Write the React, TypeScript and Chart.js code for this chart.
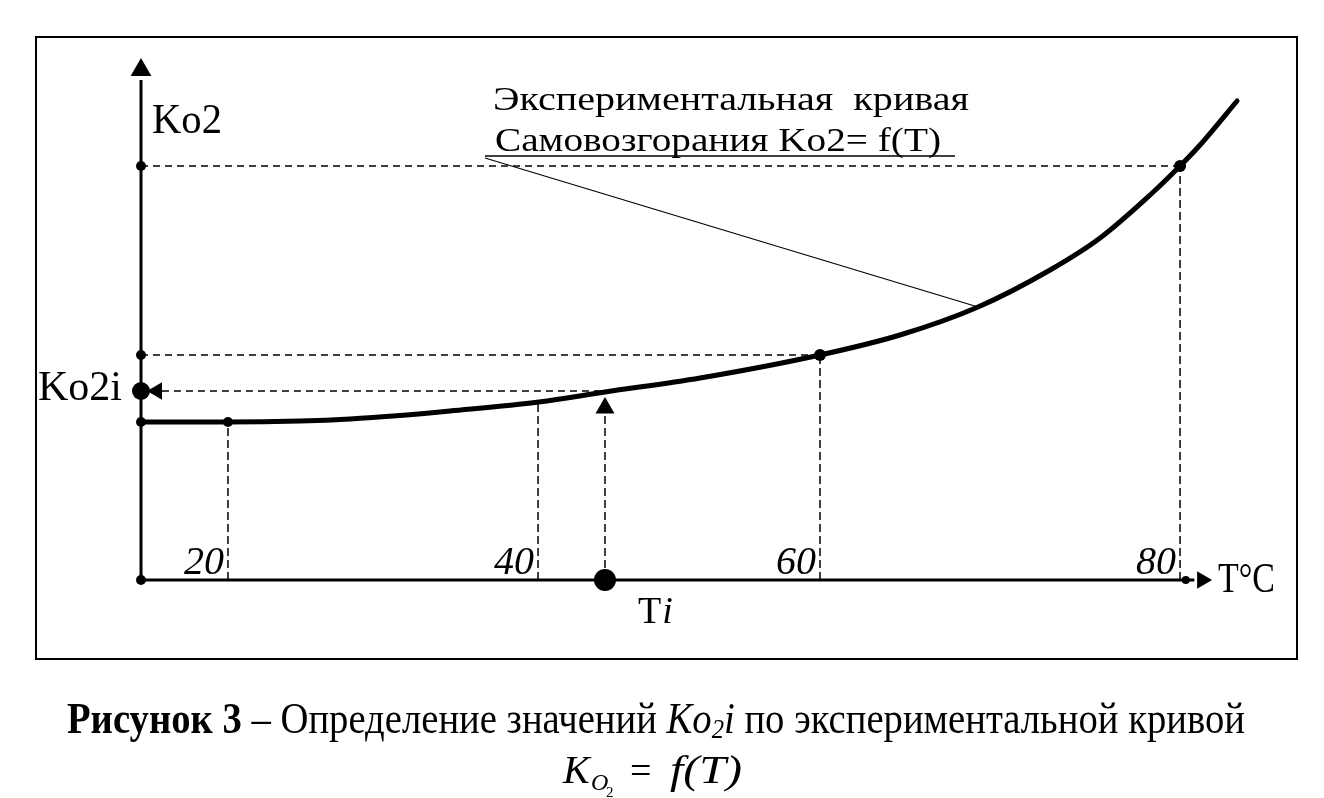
import React, { useEffect, useRef } from "react";
import { Chart, registerables } from "chart.js";

Chart.register(...registerables);

// ---------------- data ----------------
const T_ORIGIN = 14.52;
const T_MAX = 88;
const K_MAX = 5.5;

// experimental curve Ko2 = f(T)
const curveT = [14.52, 20, 24.54, 27.69, 30.84, 33.99, 39.6, 43.76, 49.75, 57.31, 62.35, 67.27, 71.81, 74.96, 78.11, 80.0, 81.26, 83.59];
const curveK = [1.58, 1.58, 1.59, 1.61, 1.645, 1.69, 1.78, 1.88, 2.02, 2.25, 2.45, 2.73, 3.1, 3.42, 3.85, 4.14, 4.35, 4.79];

// x tick labels
const tickLabels = ["20", "40", "60", "80"];
const tickT = [20, 39.54, 57.31, 80];

// vertical dashed guides
const vGuideT = [20, 39.54, 43.76, 57.31, 80];
const vGuideTopK = [1.58, 1.78, 1.67, 2.25, 4.14];

// horizontal dashed guides
const hGuideK = [4.14, 2.25, 1.89];
const hGuideFromT = [14.52, 14.52, 15.84];
const hGuideToT = [80, 57.31, 43.76];

// small marker dots
const markerT = [14.52, 14.52, 14.52, 20, 57.31, 80, 14.52, 80.36];
const markerK = [4.14, 2.25, 1.58, 1.58, 2.25, 4.14, 0, 0];

// Ti / Ko2i
const Ti = 43.76;
const Ko2i = 1.89;

// leader line from the annotation to the curve
const leaderT = [36.2, 67.27];
const leaderK = [4.22, 2.73];

// axis ends and arrow heads
const axisEndT = 80.9;
const axisEndK = 5.0;
const arrowT = [15.53, 43.76, 81.39, 14.52];
const arrowK = [1.89, 1.72, 0, 5.1];

// ---------------- drawing ----------------
const SERIF = "'Liberation Serif', 'DejaVu Serif', serif";

function fitText(ctx: CanvasRenderingContext2D, text: string, x: number, y: number, font: string, width?: number, align: "left" | "right" = "left") {
  ctx.save();
  ctx.font = font;
  ctx.textBaseline = "alphabetic";
  ctx.textAlign = "left";
  const w = ctx.measureText(text).width;
  const s = width ? width / w : 1;
  const left = align === "right" ? x - w * s : x;
  ctx.translate(left, y);
  ctx.scale(s, 1);
  ctx.fillText(text, 0, 0);
  ctx.restore();
}

type Seg = { text: string; font: string; dy: number };

function drawSegments(ctx: CanvasRenderingContext2D, segs: Seg[], x: number, y: number, width: number) {
  ctx.save();
  ctx.textBaseline = "alphabetic";
  ctx.textAlign = "left";
  let total = 0;
  const ws = segs.map((s) => {
    ctx.font = s.font;
    const w = ctx.measureText(s.text).width;
    total += w;
    return w;
  });
  const sc = width / total;
  ctx.translate(x, y);
  ctx.scale(sc, 1);
  let cx = 0;
  segs.forEach((s, i) => {
    ctx.font = s.font;
    ctx.fillText(s.text, cx, s.dy);
    cx += ws[i];
  });
  ctx.restore();
}

const textPlugin = {
  id: "schemeText",
  afterDraw(chart: any) {
    const ctx: CanvasRenderingContext2D = chart.ctx;
    const xs = chart.scales.x;
    const ys = chart.scales.y;
    const ox = xs.getPixelForValue(T_ORIGIN);
    const oy = ys.getPixelForValue(0);
    ctx.save();
    ctx.fillStyle = "#000";
    ctx.strokeStyle = "#000";

    // frame
    ctx.lineWidth = 2;
    ctx.strokeRect(36, 37, 1261, 622);

    // axis titles
    fitText(ctx, "Ko2", ox + 11, 133, `42px ${SERIF}`, 70);
    fitText(ctx, "T°C", 1218, 592, `42px ${SERIF}`, 57);
    fitText(ctx, "Ko2i", 38, 400, `42px ${SERIF}`, 84);

    // x tick labels
    tickLabels.forEach((lab, i) => {
      const px = xs.getPixelForValue(tickT[i]);
      fitText(ctx, lab, px - 4, oy - 6, `italic 40px ${SERIF}`, undefined, "right");
    });

    // Ti label
    const tix = xs.getPixelForValue(Ti);
    ctx.font = `38px ${SERIF}`;
    const tw = ctx.measureText("T").width;
    fitText(ctx, "T", tix + 33, 623, `38px ${SERIF}`);
    fitText(ctx, "i", tix + 33 + tw + 1, 623, `italic 38px ${SERIF}`);

    // annotation
    fitText(ctx, "Экспериментальная  кривая", 493, 110, `34px ${SERIF}`, 476);
    fitText(ctx, "Самовозгорания Ko2= f(T)", 495, 151, `34px ${SERIF}`, 446);
    ctx.lineWidth = 1.5;
    ctx.beginPath();
    ctx.moveTo(485, 156);
    ctx.lineTo(955, 156);
    ctx.stroke();

    // caption line 1
    drawSegments(
      ctx,
      [
        { text: "Рисунок 3", font: `bold 44px ${SERIF}`, dy: 0 },
        { text: " – Определение значений ", font: `44px ${SERIF}`, dy: 0 },
        { text: "Ko", font: `italic 44px ${SERIF}`, dy: 0 },
        { text: "2", font: `italic 28px ${SERIF}`, dy: 5 },
        { text: "i", font: `italic 44px ${SERIF}`, dy: 0 },
        { text: " по экспериментальной кривой", font: `44px ${SERIF}`, dy: 0 },
      ],
      67,
      733,
      1178
    );

    // caption line 2: K_{O_2} = f(T)
    fitText(ctx, "K", 563, 783, `italic 40px ${SERIF}`);
    fitText(ctx, "O", 591, 790, `italic 24px ${SERIF}`);
    fitText(ctx, "2", 606, 797, `15px ${SERIF}`);
    fitText(ctx, "=", 630, 783, `38px ${SERIF}`);
    fitText(ctx, "f(T)", 670, 783, `italic 40px ${SERIF}`, 72);

    ctx.restore();
  },
};

export default function App() {
  const ref = useRef<HTMLCanvasElement>(null);

  useEffect(() => {
    const canvas = ref.current;
    if (!canvas) return;
    const black = "#000";
    const pts = (xs: number[], ys: number[]) => xs.map((x, i) => ({ x, y: ys[i] }));
    const seg = (x1: number, y1: number, x2: number, y2: number) => [
      { x: x1, y: y1 },
      { x: x2, y: y2 },
    ];
    const datasets: any[] = [];

    hGuideK.forEach((k, i) =>
      datasets.push({
        data: seg(hGuideFromT[i], k, hGuideToT[i], k),
        showLine: true,
        borderColor: black,
        borderWidth: 1.5,
        borderDash: [7, 5],
        pointRadius: 0,
        clip: false,
        order: 6,
      })
    );
    vGuideT.forEach((t, i) =>
      datasets.push({
        data: seg(t, 0, t, vGuideTopK[i]),
        showLine: true,
        borderColor: black,
        borderWidth: 1.5,
        borderDash: [8, 4],
        pointRadius: 0,
        clip: false,
        order: 6,
      })
    );
    datasets.push({
      data: pts(leaderT, leaderK),
      showLine: true,
      borderColor: black,
      borderWidth: 1.2,
      pointRadius: 0,
      clip: false,
      order: 5,
    });
    datasets.push({
      data: seg(T_ORIGIN, 0, axisEndT, 0),
      showLine: true,
      borderColor: black,
      borderWidth: 3,
      pointRadius: 0,
      clip: false,
      order: 4,
    });
    datasets.push({
      data: seg(T_ORIGIN, 0, T_ORIGIN, axisEndK),
      showLine: true,
      borderColor: black,
      borderWidth: 3,
      pointRadius: 0,
      clip: false,
      order: 4,
    });
    datasets.push({
      data: pts(curveT, curveK),
      showLine: true,
      borderColor: black,
      borderWidth: 5,
      borderCapStyle: "round",
      cubicInterpolationMode: "monotone",
      pointRadius: 0,
      clip: false,
      order: 3,
    });
    datasets.push({
      data: pts(markerT, markerK),
      showLine: false,
      pointRadius: [5, 5, 5, 5, 6, 6, 5, 4],
      pointBackgroundColor: black,
      pointBorderColor: black,
      pointBorderWidth: 0,
      clip: false,
      order: 2,
    });
    datasets.push({
      data: [
        { x: T_ORIGIN, y: Ko2i },
        { x: Ti, y: 0 },
      ],
      showLine: false,
      pointRadius: [9, 11],
      pointBackgroundColor: black,
      pointBorderColor: black,
      pointBorderWidth: 0,
      clip: false,
      order: 1,
    });
    datasets.push({
      data: pts(arrowT, arrowK),
      showLine: false,
      pointStyle: "triangle",
      rotation: [270, 0, 90, 0],
      pointRadius: [10, 11, 10, 12],
      pointBackgroundColor: black,
      pointBorderColor: black,
      pointBorderWidth: 0,
      clip: false,
      order: 1,
    });

    const chart = new Chart(canvas, {
      type: "scatter",
      data: { datasets },
      options: {
        responsive: false,
        maintainAspectRatio: false,
        animation: false,
        devicePixelRatio: 1,
        events: [],
        layout: { padding: { left: 141, right: 17, top: 30, bottom: 218 } },
        scales: {
          x: { type: "linear", min: T_ORIGIN, max: T_MAX, display: false },
          y: { type: "linear", min: 0, max: K_MAX, display: false },
        },
        plugins: { legend: { display: false }, tooltip: { enabled: false } },
      },
      plugins: [textPlugin],
    } as any);

    return () => chart.destroy();
  }, []);

  return (
    <div style={{ position: "fixed", left: 0, top: 0, width: 1324, height: 798, background: "#fff" }}>
      <canvas ref={ref} width={1324} height={798} style={{ display: "block", width: 1324, height: 798 }} />
    </div>
  );
}
